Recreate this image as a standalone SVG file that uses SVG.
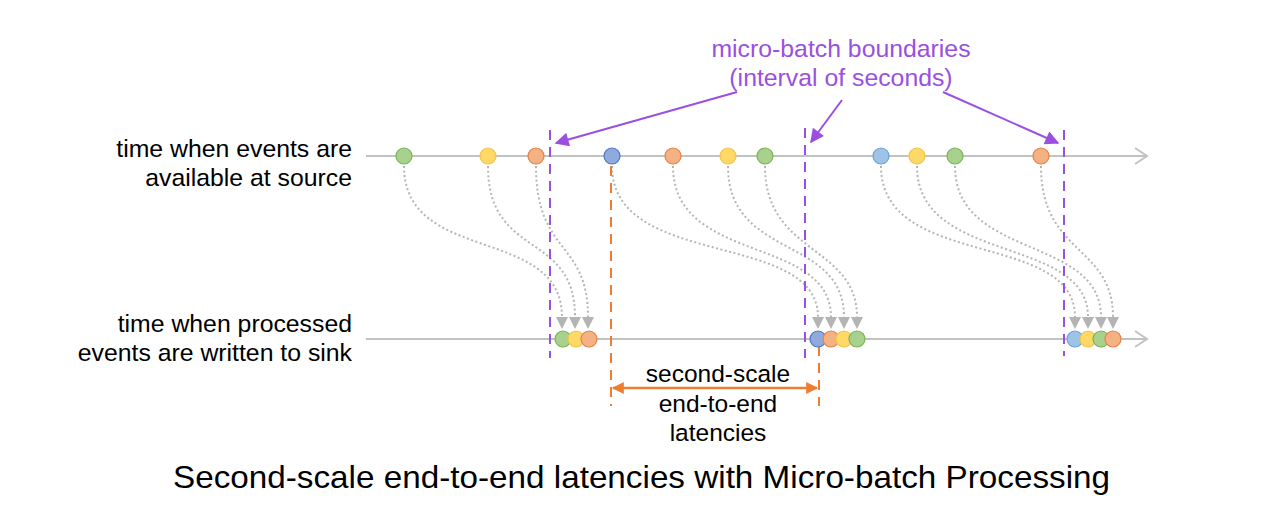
<svg xmlns="http://www.w3.org/2000/svg" width="1281" height="514" viewBox="0 0 1281 514">
<style>
text{font-family:"Liberation Sans",Arial,sans-serif;fill:#000}
.lbl{font-size:24.8px;text-anchor:end}
.pur{fill:#9b4fe0;font-size:24.8px;text-anchor:middle}
.lat{font-size:24.5px;text-anchor:middle}
.axis{stroke:#c0c4c0;stroke-width:2;fill:none}
.chev{stroke:#c0c4c0;stroke-width:2;fill:none}
.dot{stroke:#b2b8b0;stroke-width:2;stroke-dasharray:2 2.5;fill:none;marker-end:url(#tri)}
.pdash{stroke:#9b4fe0;stroke-width:2;stroke-dasharray:10 7}
.odash{stroke:#ed7d31;stroke-width:2;stroke-dasharray:10 7}
.parr{stroke:#9b4fe0;stroke-width:2;fill:none;marker-end:url(#pa)}
.g{fill:#a9d18e;stroke:#7cb356;stroke-width:1.2}
.y{fill:#ffd966;stroke:#f2c24e;stroke-width:1.2}
.o{fill:#f4b183;stroke:#e5814a;stroke-width:1.2}
.b{fill:#8faadc;stroke:#4f74c4;stroke-width:1.2}
.lb{fill:#9dc3e6;stroke:#6ea3d8;stroke-width:1.2}
</style>
<defs>
<marker id="tri" viewBox="0 0 10 10" refX="5" refY="0" markerWidth="13" markerHeight="12" markerUnits="userSpaceOnUse" orient="0">
<path d="M0,0 L10,0 L5,10 Z" fill="#b4b4b4"/>
</marker>
<marker id="pa" viewBox="0 0 10 10" refX="9" refY="5" markerWidth="16" markerHeight="14" markerUnits="userSpaceOnUse" orient="auto">
<path d="M0,0 L10,5 L0,10 Z" fill="#9b4fe0"/>
</marker>
<marker id="oa" viewBox="0 0 10 10" refX="9" refY="5" markerWidth="13" markerHeight="12" markerUnits="userSpaceOnUse" orient="auto-start-reverse">
<path d="M0,0 L10,5 L0,10 Z" fill="#ed7d31"/>
</marker>
</defs>

<g id="axes">
<line class="axis" x1="366" y1="156" x2="1147" y2="156"/>
<path class="chev" d="M1135,148 L1147,156 L1135,164"/>
<line class="axis" x1="366" y1="339" x2="1147" y2="339"/>
<path class="chev" d="M1135,331 L1147,339 L1135,347"/>
</g>

<g id="labels">
<text class="lbl" x="352" y="157">time when events are</text>
<text class="lbl" x="352" y="186">available at source</text>
<text class="lbl" x="352" y="332">time when processed</text>
<text class="lbl" x="352" y="361">events are written to sink</text>
</g>

<g id="connectors">
<path class="dot" d="M404,166 C404,265 562,225 562,317"/>
<path class="dot" d="M488,166 C488,260 575,230 575,317"/>
<path class="dot" d="M536,166 C536,255 588,240 588,317"/>
<path class="dot" d="M612,166 C612,270 818,230 818,317"/>
<path class="dot" d="M673,166 C673,265 831,235 831,317"/>
<path class="dot" d="M728,166 C728,260 844,235 844,317"/>
<path class="dot" d="M765,166 C765,255 857,245 857,317"/>
<path class="dot" d="M881,166 C881,270 1075,230 1075,317"/>
<path class="dot" d="M917,166 C917,265 1088,235 1088,317"/>
<path class="dot" d="M955,166 C955,260 1101,235 1101,317"/>
<path class="dot" d="M1041,166 C1041,255 1113,245 1113,317"/>
</g>

<g id="boundaries">
<line class="pdash" x1="550" y1="130" x2="550" y2="358"/>
<line class="pdash" x1="805" y1="128" x2="805" y2="358"/>
<line class="pdash" x1="1064" y1="130" x2="1064" y2="356"/>
</g>

<g id="latency-guides">
<line class="odash" x1="611" y1="166" x2="611" y2="406"/>
<line class="odash" x1="819" y1="346" x2="819" y2="406"/>
<line x1="613" y1="388" x2="817" y2="388" stroke="#ed7d31" stroke-width="2.5" marker-start="url(#oa)" marker-end="url(#oa)"/>
</g>

<g id="source-events">
<circle class="g" cx="404" cy="156" r="8"/>
<circle class="y" cx="488" cy="156" r="8"/>
<circle class="o" cx="536" cy="156" r="8"/>
<circle class="b" cx="612" cy="156" r="8"/>
<circle class="o" cx="673" cy="156" r="8"/>
<circle class="y" cx="728" cy="156" r="8"/>
<circle class="g" cx="765" cy="156" r="8"/>
<circle class="lb" cx="881" cy="156" r="8"/>
<circle class="y" cx="917" cy="156" r="8"/>
<circle class="g" cx="955" cy="156" r="8"/>
<circle class="o" cx="1041" cy="156" r="8"/>
</g>

<g id="sink-events">
<circle class="g" cx="563" cy="339" r="8"/>
<circle class="y" cx="576" cy="339" r="8"/>
<circle class="o" cx="589" cy="339" r="8"/>
<circle class="b" cx="818" cy="339" r="8"/>
<circle class="o" cx="831" cy="339" r="8"/>
<circle class="y" cx="844" cy="339" r="8"/>
<circle class="g" cx="857" cy="339" r="8"/>
<circle class="lb" cx="1075" cy="339" r="8"/>
<circle class="y" cx="1088" cy="339" r="8"/>
<circle class="g" cx="1101" cy="339" r="8"/>
<circle class="o" cx="1113" cy="339" r="8"/>
</g>

<g id="boundary-label">
<text class="pur" x="841" y="57">micro-batch boundaries</text>
<text class="pur" x="841" y="86">(interval of seconds)</text>
<path class="parr" d="M737,92 L556,143"/>
<path class="parr" d="M842,100 L811,142"/>
<path class="parr" d="M943,92 L1058,143"/>
</g>

<g id="latency-label">
<text class="lat" x="718" y="382">second-scale</text>
<text class="lat" x="718" y="412">end-to-end</text>
<text class="lat" x="718" y="441">latencies</text>
</g>

<text id="title" x="173" y="488" font-size="32" textLength="937" lengthAdjust="spacingAndGlyphs">Second-scale end-to-end latencies with Micro-batch Processing</text>
</svg>
